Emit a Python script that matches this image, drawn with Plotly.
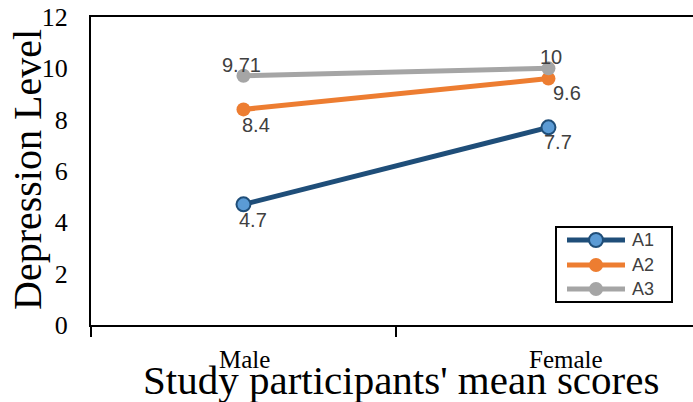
import plotly.graph_objects as go

# Gender categories and mean depression scores per group
categories = ["Male", "Female"]
series_names = ["A1", "A2", "A3"]
a1_values = [4.7, 7.7]
a2_values = [8.4, 9.6]
a3_values = [9.71, 10]

y_ticks = [0, 2, 4, 6, 8, 10, 12]

line_colors = {"A1": "#1F4E79", "A2": "#ED7D31", "A3": "#A5A5A5"}
marker_fill = {"A1": "#5B9BD5", "A2": "#ED7D31", "A3": "#A5A5A5"}
marker_edge = {"A1": 2, "A2": 0, "A3": 0}

# label offsets (px) relative to each point, per series: (xshift, yshift)
label_offsets = {
    "A1": [(10, -16), (10, -15)],
    "A2": [(13, -16), (19, -14)],
    "A3": [(-2, 11), (3, 11)],
}
# horizontal nudge of each category label under the axis
category_label_shift = [1, 18]

# plot area in pixels, used to place the boxed legend
PLOT_L, PLOT_R, PLOT_T, PLOT_B = 91, 693, 17, 325


def px_x(px):
    return (px - PLOT_L) / (PLOT_R - PLOT_L)


def px_y(py):
    return (PLOT_B - py) / (PLOT_B - PLOT_T)


fig = go.Figure()
values_by_series = {"A1": a1_values, "A2": a2_values, "A3": a3_values}

for name in series_names:
    vals = values_by_series[name]
    fig.add_trace(go.Scatter(
        x=categories, y=vals, name=name, mode="lines+markers",
        line=dict(color=line_colors[name], width=5),
        marker=dict(size=14, color=marker_fill[name],
                    line=dict(color=line_colors[name], width=marker_edge[name])),
        showlegend=False,
    ))

# value labels next to the points
annotations = []
for name in series_names:
    vals = values_by_series[name]
    for cat, v, (dx, dy) in zip(categories, vals, label_offsets[name]):
        annotations.append(dict(
            x=cat, y=v, xref="x", yref="y", text=f"{v:g}", showarrow=False,
            xshift=dx, yshift=dy,
            font=dict(family="Liberation Sans", size=20, color="#404040"),
        ))

# category labels below the x axis
for cat, dx in zip(categories, category_label_shift):
    annotations.append(dict(
        x=cat, xref="x", y=px_y(359), yref="paper", text=cat, showarrow=False,
        xshift=dx, xanchor="center", yanchor="middle",
        font=dict(family="Liberation Serif", size=25, color="black"),
    ))

# axis titles
annotations.append(dict(
    text="Study participants' mean scores", xref="paper", yref="paper",
    x=px_x(401), y=px_y(380), xanchor="center", yanchor="middle", showarrow=False,
    font=dict(family="Liberation Serif", size=41, color="black"),
))
annotations.append(dict(
    text="Depression Level", xref="paper", yref="paper", textangle=-90,
    x=px_x(27), y=px_y(170), xanchor="center", yanchor="middle", showarrow=False,
    font=dict(family="Liberation Serif", size=40, color="black"),
))

# boxed legend: long line samples with a centred marker
shapes = [dict(
    type="rect", xref="paper", yref="paper",
    x0=px_x(556), x1=px_x(672), y0=px_y(302), y1=px_y(227),
    line=dict(color="black", width=2), fillcolor="white", layer="above",
)]
legend_rows = [240, 265, 289]
for name, row in zip(series_names, legend_rows):
    shapes.append(dict(
        type="line", xref="paper", yref="paper",
        x0=px_x(567), x1=px_x(625), y0=px_y(row), y1=px_y(row),
        line=dict(color=line_colors[name], width=5), layer="above",
    ))
    shapes.append(dict(
        type="circle", xref="paper", yref="paper",
        xsizemode="pixel", ysizemode="pixel",
        xanchor=px_x(596), yanchor=px_y(row),
        x0=-7, x1=7, y0=-7, y1=7,
        fillcolor=marker_fill[name],
        line=dict(color=line_colors[name], width=marker_edge[name]),
        layer="above",
    ))
    annotations.append(dict(
        text=name, xref="paper", yref="paper", x=px_x(630), y=px_y(row),
        xanchor="left", yanchor="middle", showarrow=False,
        font=dict(family="Liberation Sans", size=18, color="#404040"),
    ))

fig.update_layout(
    width=693, height=402,
    margin=dict(l=PLOT_L, r=693 - PLOT_R, t=PLOT_T, b=402 - PLOT_B),
    paper_bgcolor="white", plot_bgcolor="white",
    showlegend=False,
    annotations=annotations,
    shapes=shapes,
)

fig.update_xaxes(
    type="category", range=[-0.5, 1.474],
    showline=True, linecolor="black", linewidth=2, mirror=True,
    showgrid=False, zeroline=False,
    tickson="boundaries", ticks="outside", ticklen=10, tickwidth=2, tickcolor="black",
    showticklabels=False,
)
fig.update_yaxes(
    range=[0, 12], tickvals=y_ticks, ticktext=[str(t) for t in y_ticks],
    showline=True, linecolor="black", linewidth=2, mirror=False,
    showgrid=False, zeroline=False, ticks="",
    tickfont=dict(family="Liberation Serif", size=26, color="black"),
    ticklabelstandoff=16,
)

fig.write_html("out.html")
